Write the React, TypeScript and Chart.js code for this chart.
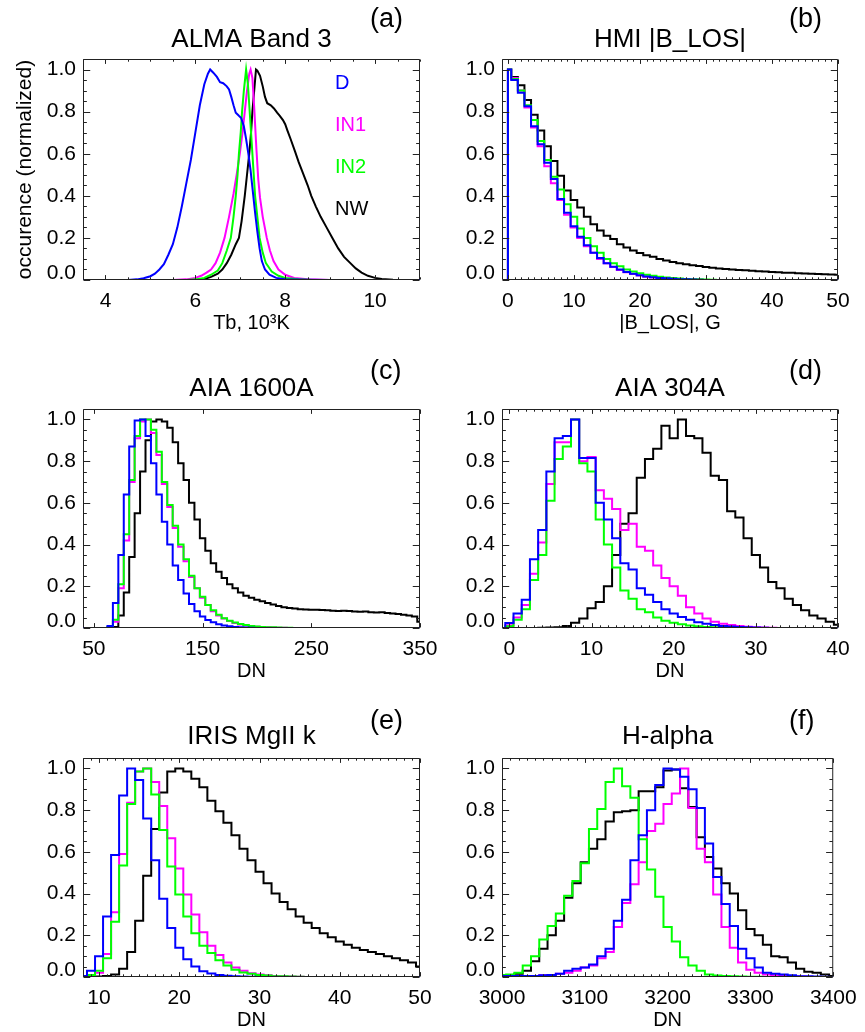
import React, { useEffect, useRef } from 'react';
import { Chart, registerables } from 'chart.js';

Chart.register(...registerables);
Chart.defaults.font.family = "'Liberation Sans', Arial, Helvetica, sans-serif";
Chart.defaults.color = '#000';

// ---------- shared ----------
const seriesNames = ['D', 'IN1', 'IN2', 'NW'];
const seriesColors = ['#0000ff', '#ff00ff', '#00ff00', '#000000'];
const drawOrder = [0, 2, 1, 3]; // lower = drawn on top
const yTicks = [0, 0.2, 0.4, 0.6, 0.8, 1.0];

// ---------- (a) ALMA Band 3 ----------
const aXTicks = [4, 6, 8, 10];
const aDx = [3.5, 4.5, 4.7, 4.85, 5.0, 5.1, 5.2, 5.3, 5.4, 5.5, 5.6, 5.7, 5.8, 5.9, 6.0, 6.1, 6.2, 6.28, 6.33, 6.4, 6.48, 6.55, 6.62, 6.7, 6.75, 6.8, 6.85, 6.9, 6.97, 7.02, 7.08, 7.13, 7.18, 7.23, 7.28, 7.33, 7.38, 7.43, 7.48, 7.55, 7.65, 7.8, 8.0, 8.5, 9.0, 11.0];
const aDy = [0, 0, 0.003, 0.008, 0.018, 0.03, 0.05, 0.075, 0.12, 0.17, 0.25, 0.35, 0.46, 0.57, 0.7, 0.83, 0.93, 0.98, 1.0, 0.985, 0.965, 0.94, 0.935, 0.92, 0.905, 0.87, 0.83, 0.795, 0.78, 0.77, 0.73, 0.67, 0.6, 0.52, 0.42, 0.32, 0.23, 0.15, 0.09, 0.05, 0.025, 0.01, 0.004, 0.001, 0, 0];
const aIN1x = [3.5, 5.5, 5.8, 6.0, 6.13, 6.25, 6.35, 6.45, 6.55, 6.65, 6.75, 6.85, 6.92, 6.99, 7.05, 7.1, 7.15, 7.2, 7.23, 7.27, 7.31, 7.36, 7.4, 7.44, 7.5, 7.59, 7.66, 7.74, 7.85, 8.0, 8.2, 8.5, 9.0, 11.0];
const aIN1y = [0, 0, 0.003, 0.01, 0.02, 0.035, 0.05, 0.08, 0.13, 0.2, 0.3, 0.41, 0.5, 0.6, 0.7, 0.8, 0.9, 0.98, 1.0, 0.96, 0.82, 0.62, 0.48, 0.39, 0.3, 0.2, 0.14, 0.09, 0.05, 0.025, 0.01, 0.003, 0, 0];
const aIN2x = [3.5, 5.8, 6.0, 6.2, 6.35, 6.5, 6.6, 6.7, 6.79, 6.85, 6.9, 6.94, 6.97, 7.01, 7.04, 7.08, 7.13, 7.17, 7.21, 7.24, 7.27, 7.3, 7.33, 7.38, 7.43, 7.5, 7.57, 7.7, 7.85, 8.0, 8.3, 8.6, 11.0];
const aIN2y = [0, 0, 0.003, 0.01, 0.025, 0.045, 0.08, 0.14, 0.2, 0.3, 0.4, 0.5, 0.6, 0.7, 0.8, 0.9, 1.0, 0.93, 0.8, 0.7, 0.6, 0.5, 0.4, 0.3, 0.2, 0.13, 0.08, 0.04, 0.02, 0.01, 0.003, 0, 0];
const aNWx = [3.5, 6.0, 6.2, 6.35, 6.5, 6.6, 6.7, 6.8, 6.9, 6.97, 7.03, 7.1, 7.15, 7.2, 7.24, 7.27, 7.31, 7.35, 7.38, 7.44, 7.5, 7.55, 7.6, 7.68, 7.75, 7.82, 7.88, 7.95, 8.0, 8.05, 8.12, 8.22, 8.3, 8.41, 8.5, 8.58, 8.68, 8.79, 8.92, 9.05, 9.18, 9.31, 9.45, 9.57, 9.7, 9.84, 10.0, 10.15, 10.4, 10.6, 11.0];
const aNWy = [0, 0, 0.005, 0.015, 0.03, 0.05, 0.08, 0.12, 0.17, 0.2, 0.28, 0.4, 0.5, 0.6, 0.7, 0.8, 0.9, 1.0, 0.995, 0.97, 0.92, 0.87, 0.84, 0.83, 0.815, 0.795, 0.78, 0.76, 0.74, 0.71, 0.67, 0.61, 0.56, 0.5, 0.45, 0.4, 0.35, 0.3, 0.25, 0.2, 0.15, 0.11, 0.08, 0.055, 0.035, 0.02, 0.01, 0.005, 0.001, 0, 0];

// ---------- (b) HMI |B_LOS| ----------
const bXTicks = [0, 10, 20, 30, 40, 50];
const bX = [0, 0, 1, 2, 3, 4, 5, 6, 7, 8, 9, 10, 11, 12, 13, 14, 15, 16, 17, 18, 19, 20, 21, 22, 23, 24, 25, 26, 27, 28, 29, 30, 31, 32, 33, 34, 35, 36, 37, 38, 39, 40, 41, 42, 43, 44, 45, 46, 47, 48, 49, 50];
const bD = [0, 1.0, 0.95, 0.89, 0.825, 0.73, 0.645, 0.557, 0.48, 0.385, 0.32, 0.255, 0.205, 0.165, 0.13, 0.105, 0.08, 0.063, 0.05, 0.038, 0.03, 0.022, 0.017, 0.013, 0.01, 0.008, 0.006, 0.004, 0.003, 0.002, 0.001, 0, 0, 0, 0, 0, 0, 0, 0, 0, 0, 0, 0, 0, 0, 0, 0, 0, 0, 0, 0, 0];
const bIN1 = [0, 1.0, 0.96, 0.9, 0.82, 0.725, 0.635, 0.54, 0.46, 0.38, 0.31, 0.25, 0.2, 0.16, 0.13, 0.1, 0.08, 0.062, 0.048, 0.037, 0.028, 0.021, 0.016, 0.012, 0.009, 0.007, 0.005, 0.004, 0.003, 0.002, 0.001, 0, 0, 0, 0, 0, 0, 0, 0, 0, 0, 0, 0, 0, 0, 0, 0, 0, 0, 0, 0, 0];
const bIN2 = [0, 1.0, 0.955, 0.9, 0.83, 0.76, 0.66, 0.57, 0.49, 0.43, 0.36, 0.3, 0.245, 0.2, 0.16, 0.13, 0.1, 0.08, 0.065, 0.05, 0.04, 0.032, 0.025, 0.02, 0.016, 0.012, 0.009, 0.007, 0.005, 0.004, 0.003, 0.002, 0.001, 0, 0, 0, 0, 0, 0, 0, 0, 0, 0, 0, 0, 0, 0, 0, 0, 0, 0, 0];
const bNW = [0, 1.0, 0.965, 0.925, 0.855, 0.785, 0.71, 0.635, 0.565, 0.495, 0.425, 0.38, 0.345, 0.3, 0.265, 0.235, 0.21, 0.195, 0.17, 0.155, 0.14, 0.128, 0.118, 0.11, 0.1, 0.093, 0.086, 0.08, 0.075, 0.07, 0.066, 0.062, 0.058, 0.055, 0.052, 0.05, 0.048, 0.046, 0.044, 0.042, 0.04, 0.038, 0.037, 0.035, 0.034, 0.032, 0.031, 0.03, 0.028, 0.027, 0.026, 0.025];

// ---------- (c) AIA 1600A ----------
const cXTicks = [50, 150, 250, 350];
const cX = [40, 45, 50, 55, 60, 65, 70, 75, 80, 85, 90, 95, 100, 105, 110, 115, 120, 125, 130, 135, 140, 145, 150, 155, 160, 165, 170, 175, 180, 185, 190, 195, 200, 205, 210, 215, 220, 225, 230, 235, 240, 245, 250, 255, 260, 265, 270, 275, 280, 285, 290, 295, 300, 305, 310, 315, 320, 325, 330, 335, 340, 345, 350];
const cD = [0, 0, 0, 0, 0, 0.01, 0.12, 0.35, 0.64, 0.87, 0.995, 1.0, 0.92, 0.79, 0.64, 0.51, 0.4, 0.3, 0.23, 0.165, 0.115, 0.08, 0.055, 0.038, 0.027, 0.018, 0.012, 0.008, 0.005, 0.003, 0.002, 0.001, 0, 0, 0, 0, 0, 0, 0, 0, 0, 0, 0, 0, 0, 0, 0, 0, 0, 0, 0, 0, 0, 0, 0, 0, 0, 0, 0, 0, 0, 0, 0];
const cIN1 = [0, 0, 0, 0, 0, 0.003, 0.03, 0.19, 0.42, 0.7, 0.91, 0.99, 1.0, 0.935, 0.83, 0.69, 0.58, 0.48, 0.39, 0.32, 0.245, 0.19, 0.145, 0.11, 0.08, 0.06, 0.045, 0.033, 0.024, 0.017, 0.012, 0.008, 0.006, 0.004, 0.003, 0.002, 0.001, 0.001, 0, 0, 0, 0, 0, 0, 0, 0, 0, 0, 0, 0, 0, 0, 0, 0, 0, 0, 0, 0, 0, 0, 0, 0, 0];
const cIN2 = [0, 0, 0, 0, 0, 0.005, 0.04, 0.21, 0.45, 0.71, 0.92, 1.0, 1.0, 0.95, 0.845, 0.7, 0.59, 0.49, 0.4, 0.33, 0.25, 0.19, 0.15, 0.11, 0.085, 0.063, 0.047, 0.035, 0.026, 0.019, 0.014, 0.01, 0.007, 0.005, 0.004, 0.003, 0.002, 0.001, 0.001, 0, 0, 0, 0, 0, 0, 0, 0, 0, 0, 0, 0, 0, 0, 0, 0, 0, 0, 0, 0, 0, 0, 0, 0];
const cNW = [0, 0, 0, 0, 0, 0, 0.005, 0.06, 0.17, 0.34, 0.55, 0.75, 0.9, 0.99, 1.0, 0.99, 0.96, 0.89, 0.79, 0.71, 0.6, 0.52, 0.43, 0.37, 0.31, 0.27, 0.24, 0.21, 0.19, 0.17, 0.155, 0.145, 0.135, 0.128, 0.12, 0.113, 0.106, 0.1, 0.096, 0.093, 0.09, 0.089, 0.088, 0.087, 0.086, 0.085, 0.083, 0.082, 0.083, 0.081, 0.079, 0.078, 0.079, 0.076, 0.074, 0.075, 0.072, 0.07, 0.067, 0.064, 0.06, 0.055, 0.03];

// ---------- (d) AIA 304A ----------
const dXTicks = [0, 10, 20, 30, 40];
const dX = [-1, 0, 1, 2, 3, 4, 5, 6, 7, 8, 9, 10, 11, 12, 13, 14, 15, 16, 17, 18, 19, 20, 21, 22, 23, 24, 25, 26, 27, 28, 29, 30, 31, 32, 33, 34, 35, 36, 37, 38, 39, 40];
const dD = [0, 0.024, 0.07, 0.135, 0.33, 0.47, 0.75, 0.91, 0.92, 1.0, 0.815, 0.815, 0.6, 0.52, 0.43, 0.31, 0.28, 0.19, 0.16, 0.125, 0.09, 0.07, 0.053, 0.04, 0.027, 0.02, 0.014, 0.01, 0.007, 0.005, 0.003, 0.002, 0.001, 0, 0, 0, 0, 0, 0, 0, 0, 0];
const dIN1 = [0, 0.013, 0.05, 0.11, 0.26, 0.41, 0.69, 0.89, 0.89, 1.0, 0.8, 0.82, 0.66, 0.62, 0.57, 0.47, 0.5, 0.39, 0.37, 0.3, 0.24, 0.2, 0.155, 0.1, 0.07, 0.045, 0.03, 0.02, 0.014, 0.01, 0.006, 0.004, 0.002, 0.001, 0, 0, 0, 0, 0, 0, 0, 0];
const dIN2 = [0, 0.008, 0.04, 0.09, 0.23, 0.35, 0.61, 0.81, 0.87, 1.0, 0.79, 0.75, 0.52, 0.4, 0.29, 0.18, 0.14, 0.09, 0.075, 0.05, 0.035, 0.025, 0.018, 0.012, 0.008, 0.005, 0.003, 0.002, 0.001, 0, 0, 0, 0, 0, 0, 0, 0, 0, 0, 0, 0, 0];
const dNW = [0, 0, 0, 0, 0, 0.001, 0.002, 0.003, 0.01, 0.025, 0.045, 0.095, 0.125, 0.2, 0.35, 0.5, 0.55, 0.72, 0.81, 0.86, 0.97, 0.91, 1.0, 0.92, 0.91, 0.84, 0.73, 0.71, 0.56, 0.53, 0.43, 0.35, 0.29, 0.22, 0.19, 0.14, 0.11, 0.085, 0.06, 0.045, 0.03, 0.015];

// ---------- (e) IRIS MgII k ----------
const eXTicks = [10, 20, 30, 40, 50];
const eX = [8, 9, 10, 11, 12, 13, 14, 15, 16, 17, 18, 19, 20, 21, 22, 23, 24, 25, 26, 27, 28, 29, 30, 31, 32, 33, 34, 35, 36, 37, 38, 39, 40, 41, 42, 43, 44, 45, 46, 47, 48, 49, 50];
const eD = [0.005, 0.03, 0.1, 0.29, 0.585, 0.87, 1.0, 0.945, 0.76, 0.56, 0.375, 0.235, 0.14, 0.085, 0.05, 0.028, 0.017, 0.01, 0.006, 0.004, 0.002, 0.001, 0, 0, 0, 0, 0, 0, 0, 0, 0, 0, 0, 0, 0, 0, 0, 0, 0, 0, 0, 0, 0];
const eIN1 = [0, 0.005, 0.02, 0.11, 0.31, 0.59, 0.835, 0.985, 1.0, 0.935, 0.82, 0.665, 0.52, 0.395, 0.3, 0.215, 0.15, 0.105, 0.07, 0.045, 0.03, 0.018, 0.012, 0.008, 0.005, 0.003, 0.002, 0.001, 0, 0, 0, 0, 0, 0, 0, 0, 0, 0, 0, 0, 0, 0, 0];
const eIN2 = [0, 0.01, 0.03, 0.09, 0.265, 0.535, 0.83, 0.985, 1.0, 0.875, 0.705, 0.53, 0.395, 0.29, 0.21, 0.15, 0.115, 0.08, 0.055, 0.035, 0.022, 0.015, 0.01, 0.007, 0.004, 0.003, 0.002, 0.001, 0, 0, 0, 0, 0, 0, 0, 0, 0, 0, 0, 0, 0, 0, 0];
const eNW = [0, 0, 0.002, 0.005, 0.012, 0.04, 0.12, 0.27, 0.485, 0.71, 0.885, 0.985, 1.0, 0.985, 0.95, 0.91, 0.845, 0.795, 0.74, 0.68, 0.615, 0.56, 0.505, 0.45, 0.4, 0.36, 0.325, 0.29, 0.26, 0.235, 0.21, 0.19, 0.17, 0.155, 0.14, 0.13, 0.12, 0.11, 0.1, 0.09, 0.08, 0.07, 0.05];

// ---------- (f) H-alpha ----------
const fXTicks = [3000, 3100, 3200, 3300, 3400];
const fX = [3000, 3010, 3020, 3030, 3040, 3050, 3060, 3070, 3080, 3090, 3100, 3110, 3120, 3130, 3140, 3150, 3160, 3170, 3180, 3190, 3200, 3210, 3220, 3230, 3240, 3250, 3260, 3270, 3280, 3290, 3300, 3310, 3320, 3330, 3340, 3350, 3360, 3370, 3380, 3390, 3400];
const fD = [0.005, 0.005, 0.005, 0.005, 0.005, 0.008, 0.01, 0.015, 0.03, 0.04, 0.045, 0.06, 0.1, 0.135, 0.27, 0.37, 0.56, 0.68, 0.8, 0.92, 1.0, 0.995, 0.96, 0.9, 0.81, 0.64, 0.48, 0.35, 0.245, 0.135, 0.09, 0.045, 0.02, 0.015, 0.012, 0.008, 0.004, 0.003, 0.002, 0.001, 0];
const fIN1 = [0.005, 0.005, 0.005, 0.005, 0.005, 0.008, 0.01, 0.015, 0.02, 0.03, 0.045, 0.055, 0.09, 0.12, 0.24, 0.355, 0.445, 0.55, 0.7, 0.735, 0.83, 0.88, 1.0, 0.81, 0.615, 0.55, 0.395, 0.24, 0.14, 0.07, 0.035, 0.02, 0.012, 0.008, 0.005, 0.003, 0.002, 0.001, 0, 0, 0];
const fIN2 = [0.01, 0.012, 0.02, 0.055, 0.1, 0.18, 0.245, 0.305, 0.39, 0.46, 0.545, 0.71, 0.805, 0.935, 1.0, 0.915, 0.86, 0.66, 0.515, 0.385, 0.24, 0.17, 0.095, 0.055, 0.03, 0.012, 0.007, 0.005, 0.003, 0.002, 0.001, 0.001, 0, 0, 0, 0, 0, 0, 0, 0, 0];
const fNW = [0.01, 0.01, 0.015, 0.03, 0.075, 0.135, 0.2, 0.27, 0.38, 0.45, 0.55, 0.615, 0.66, 0.745, 0.79, 0.795, 0.8, 0.89, 0.89, 0.91, 0.99, 0.995, 0.905, 0.815, 0.67, 0.575, 0.52, 0.45, 0.4, 0.32, 0.23, 0.2, 0.155, 0.1, 0.095, 0.07, 0.04, 0.025, 0.02, 0.012, 0.005];

// ---------- panels ----------
type Panel = {
  key: string; label: string; title: string; col: number; row: number;
  xMin: number; xMax: number; xTicks: number[]; xMinor: number;
  xTitle: string; yTitle?: string; legend?: boolean; stepped: boolean;
  xs: number[][]; ys: number[][];
};

const PANELS: Panel[] = [
  { key: 'a', label: '(a)', title: 'ALMA Band 3', col: 0, row: 0, xMin: 3.5, xMax: 11, xTicks: aXTicks, xMinor: 0.5,
    xTitle: 'Tb, 10\u00B3K', yTitle: 'occurence (normalized)', legend: true, stepped: false,
    xs: [aDx, aIN1x, aIN2x, aNWx], ys: [aDy, aIN1y, aIN2y, aNWy] },
  { key: 'b', label: '(b)', title: 'HMI |B_LOS|', col: 1, row: 0, xMin: -0.9, xMax: 50, xTicks: bXTicks, xMinor: 1,
    xTitle: '|B_LOS|, G', stepped: true, xs: [bX, bX, bX, bX], ys: [bD, bIN1, bIN2, bNW] },
  { key: 'c', label: '(c)', title: 'AIA 1600A', col: 0, row: 1, xMin: 40, xMax: 350, xTicks: cXTicks, xMinor: 0,
    xTitle: 'DN', stepped: true, xs: [cX, cX, cX, cX], ys: [cD, cIN1, cIN2, cNW] },
  { key: 'd', label: '(d)', title: 'AIA 304A', col: 1, row: 1, xMin: -0.9, xMax: 40, xTicks: dXTicks, xMinor: 1,
    xTitle: 'DN', stepped: true, xs: [dX, dX, dX, dX], ys: [dD, dIN1, dIN2, dNW] },
  { key: 'e', label: '(e)', title: 'IRIS MgII k', col: 0, row: 2, xMin: 8, xMax: 50, xTicks: eXTicks, xMinor: 1,
    xTitle: 'DN', stepped: true, xs: [eX, eX, eX, eX], ys: [eD, eIN1, eIN2, eNW] },
  { key: 'f', label: '(f)', title: 'H-alpha', col: 1, row: 2, xMin: 3000, xMax: 3400, xTicks: fXTicks, xMinor: 10,
    xTitle: 'DN', stepped: true, xs: [fX, fX, fX, fX], ys: [fD, fIN1, fIN2, fNW] },
];

const COLS = [
  { x: 0, w: 450, axisW: 83, padR: 30 },
  { x: 440, w: 425, axisW: 62, padR: 27 },
];
const ROWS = [
  { y: 0, h: 345, tTop: 24.4, tBottom: 3.4, axisH: 65, xTitlePad: 10, labelDy: -39 },
  { y: 345, h: 345, tTop: 28.4, tBottom: 4.4, axisH: 62, xTitlePad: 7, labelDy: -37 },
  { y: 690, h: 342, tTop: 31.4, tBottom: 5.4, axisH: 55, xTitlePad: 0, labelDy: -36 },
];

const FONT = "'Liberation Sans', Arial, Helvetica, sans-serif";

function framePlugin(p: Panel) {
  return {
    id: 'frame_' + p.key,
    afterDraw(chart: any) {
      const { ctx, chartArea } = chart;
      const { left, right, top, bottom } = chartArea;
      const xs = chart.scales.x;
      const ys = chart.scales.y;
      const L = left + 0.5, R = right - 0.5, T = top + 0.5, B = bottom - 0.5;
      ctx.save();
      ctx.strokeStyle = '#222';
      ctx.lineWidth = 1;
      ctx.beginPath();
      ctx.rect(L, T, R - L, B - T);
      const h = bottom - top, w = right - left;
      const xMajLen = 0.02 * h, xMinLen = 0.01 * h;
      const yMajLen = 0.02 * w, yMinLen = 0.01 * w;
      const xt = (v: number, len: number) => {
        const px = Math.round(xs.getPixelForValue(v)) + 0.5;
        ctx.moveTo(px, B); ctx.lineTo(px, B - len);
        ctx.moveTo(px, T); ctx.lineTo(px, T + len);
      };
      const yt = (v: number, len: number) => {
        const py = Math.round(ys.getPixelForValue(v)) + 0.5;
        ctx.moveTo(L, py); ctx.lineTo(L + len, py);
        ctx.moveTo(R, py); ctx.lineTo(R - len, py);
      };
      p.xTicks.forEach((v) => xt(v, xMajLen));
      if (p.xMinor > 0) {
        const n = Math.round((p.xMax - p.xMin) / p.xMinor) + 2;
        const start = Math.ceil(p.xMin / p.xMinor);
        for (let i = 0; i < n; i++) {
          const v = Math.round((start + i) * p.xMinor * 1000) / 1000;
          if (v < p.xMin || v > p.xMax) continue;
          if (p.xTicks.some((t) => Math.abs(t - v) < 1e-6)) continue;
          xt(v, xMinLen);
        }
      }
      yTicks.forEach((v) => yt(v, yMajLen));
      for (let i = 0; i <= 21; i++) {
        const v = Math.round(i * 5) / 100;
        if (yTicks.some((t) => Math.abs(t - v) < 1e-6)) continue;
        yt(v, yMinLen);
      }
      ctx.stroke();

      ctx.fillStyle = '#000';
      ctx.textBaseline = 'middle';
      ctx.textAlign = 'left';
      ctx.font = '27px ' + FONT;
      ctx.fillText(p.label, left + 287, top + ROWS[p.row].labelDy);

      if (p.legend) {
        ctx.font = '20px ' + FONT;
        chart.data.datasets.forEach((ds: any, i: number) => {
          ctx.fillStyle = ds.borderColor;
          ctx.fillText(ds.label, left + 252, top + 24 + i * 42.3);
        });
      }
      ctx.restore();
    },
  };
}

function buildConfig(p: Panel): any {
  const col = COLS[p.col];
  const row = ROWS[p.row];
  const datasets = seriesNames.map((name, i) => ({
    label: name,
    data: p.xs[i].map((x, j) => ({ x, y: p.ys[i][j] })),
    borderColor: seriesColors[i],
    backgroundColor: seriesColors[i],
    borderWidth: 2,
    pointRadius: 0,
    pointHoverRadius: 0,
    tension: 0,
    fill: false,
    stepped: p.stepped ? 'middle' : false,
    order: drawOrder[i],
  }));
  return {
    type: 'line',
    data: { datasets },
    options: {
      responsive: false,
      animation: false,
      events: [],
      layout: { padding: { top: 0, right: col.padR, bottom: 0, left: 0 } },
      plugins: {
        legend: { display: false },
        tooltip: { enabled: false },
        title: {
          display: true,
          text: p.title,
          fullSize: false,
          color: '#000',
          font: { size: 26, weight: 'normal', lineHeight: 1.2 },
          padding: { top: row.tTop, bottom: row.tBottom },
        },
      },
      scales: {
        x: {
          type: 'linear',
          min: p.xMin,
          max: p.xMax,
          grid: { display: false, drawTicks: false },
          border: { display: false },
          afterBuildTicks: (scale: any) => {
            scale.ticks = p.xTicks.map((v) => ({ value: v }));
          },
          afterFit: (scale: any) => {
            scale.height = row.axisH;
          },
          ticks: {
            autoSkip: false,
            maxRotation: 0,
            minRotation: 0,
            padding: 8.4,
            color: '#000',
            font: { size: 21 },
            callback: (v: any) => String(v),
          },
          title: {
            display: true,
            text: p.xTitle,
            color: '#000',
            font: { size: 20 },
            padding: { top: 0, bottom: row.xTitlePad },
          },
        },
        y: {
          type: 'linear',
          min: 0,
          max: 1.05,
          grid: { display: false, drawTicks: false },
          border: { display: false },
          afterBuildTicks: (scale: any) => {
            scale.ticks = yTicks.map((v) => ({ value: v }));
          },
          afterFit: (scale: any) => {
            scale.width = col.axisW;
          },
          ticks: {
            autoSkip: false,
            padding: 7,
            color: '#000',
            font: (ctx: any) =>
              ctx.tick && ctx.tick.value === 0 ? { size: 21, lineHeight: 0.6 } : { size: 21 },
            callback: (v: any) => (Number(v) === 0 ? ['0.0', ''] : Number(v).toFixed(1)),
          },
          title: p.yTitle
            ? { display: true, text: p.yTitle, color: '#000', font: { size: 21 }, padding: { top: 12.4, bottom: 0 } }
            : { display: false },
        },
      },
    },
    plugins: [framePlugin(p)],
  };
}

export default function App() {
  const refs = useRef<(HTMLCanvasElement | null)[]>([]);
  useEffect(() => {
    const charts = PANELS.map((p, i) => new Chart(refs.current[i] as HTMLCanvasElement, buildConfig(p)));
    return () => {
      charts.forEach((c) => c.destroy());
    };
  }, []);
  return (
    <div style={{ position: 'absolute', left: 0, top: 0, width: 865, height: 1032, background: '#fff', overflow: 'hidden' }}>
      {PANELS.map((p, i) => {
        const col = COLS[p.col];
        const row = ROWS[p.row];
        return (
          <canvas
            key={p.key}
            ref={(el) => {
              refs.current[i] = el;
            }}
            width={col.w}
            height={row.h}
            style={{ position: 'absolute', left: col.x, top: row.y, width: col.w, height: row.h }}
          />
        );
      })}
    </div>
  );
}
